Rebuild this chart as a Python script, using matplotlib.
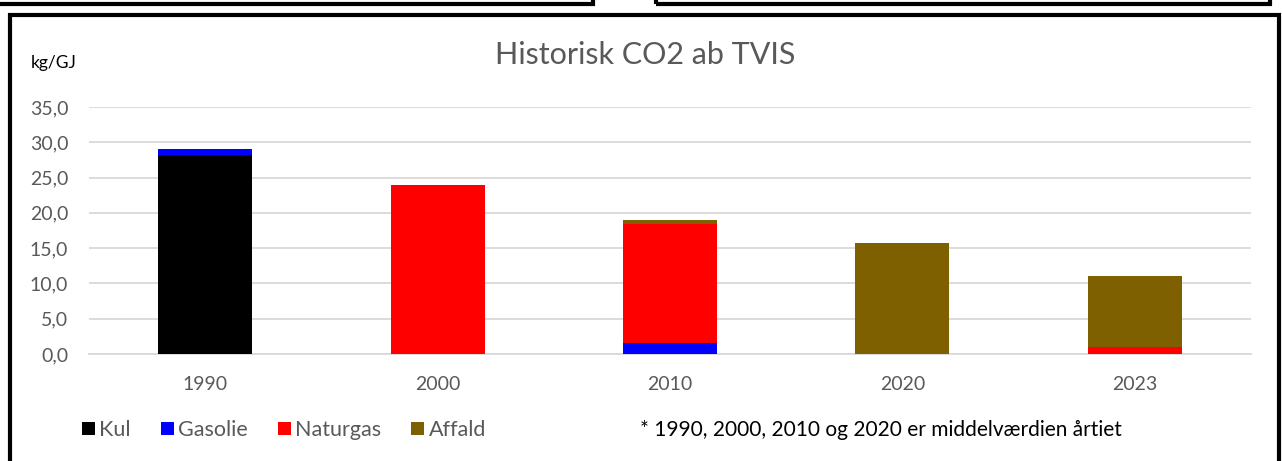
import matplotlib.pyplot as plt
from matplotlib.patches import Rectangle
from matplotlib.ticker import MultipleLocator, FuncFormatter

plt.rcParams['font.family'] = ['Lato', 'DejaVu Sans']

# data (kg/GJ)
years = ['1990', '2000', '2010', '2020', '2023']
kul = [28.2, 0, 0, 0, 0]
gasolie = [0.8, 0, 1.5, 0, 0]
naturgas = [0, 24.0, 16.9, 0, 1.0]
affald = [0, 0, 0.6, 15.7, 10.0]

series = [('Kul', kul, '#000000'),
          ('Gasolie', gasolie, '#0000ff'),
          ('Naturgas', naturgas, '#ff0000'),
          ('Affald', affald, '#7f6000')]

W, H = 1282, 461
fig = plt.figure(figsize=(W / 100, H / 100), dpi=100)
ax = fig.add_axes([89 / W, 1 - 354 / H, (1251 - 89) / W, (354 - 107) / H])

x = range(len(years))
bottom = [0] * len(years)
for name, vals, col in series:
    ax.bar(x, vals, width=0.405, bottom=bottom, color=col, label=name, zorder=3)
    bottom = [b + v for b, v in zip(bottom, vals)]

ax.set_xlim(-0.5, len(years) - 0.5)
ax.set_ylim(0, 35)
ax.yaxis.set_major_locator(MultipleLocator(5))
ax.yaxis.set_major_formatter(FuncFormatter(lambda v, p: f'{v:.1f}'.replace('.', ',')))
ax.set_xticks(list(x))
ax.set_xticklabels(years)
ax.tick_params(length=0, labelsize=14, labelcolor='#595959')
ax.tick_params(axis='y', pad=15)
ax.tick_params(axis='x', pad=16)
ax.grid(axis='y', color='#d9d9d9', linewidth=1.3, zorder=0)
for s in ['top', 'right', 'left']:
    ax.spines[s].set_visible(False)
ax.spines['bottom'].set_color('#d9d9d9')
ax.spines['bottom'].set_linewidth(1.3)

# title and unit label
fig.text(645 / W, 1 - 55 / H, 'Historisk CO2 ab TVIS', ha='center', va='center',
         fontsize=22, color='#595959')
fig.text(31 / W, 1 - 63 / H, 'kg/GJ', ha='left', va='center', fontsize=12.5, color='#000000')

# legend
leg = fig.legend(loc='center left', bbox_to_anchor=(82 / W, 1 - 430 / H), ncol=4,
                 frameon=False, fontsize=15.5, handlelength=0.6, handleheight=0.6,
                 handletextpad=0.2, columnspacing=1.4, borderaxespad=0, borderpad=0)
for t in leg.get_texts():
    t.set_color('#595959')

fig.text(640 / W, 1 - 430 / H, '* 1990, 2000, 2010 og 2020 er middelværdien årtiet',
         ha='left', va='center', fontsize=15, color='#000000')

# frame around the chart and bits of the neighbouring boxes
fig.patches.append(Rectangle((10 / W, -0.05), (1269 / W), 1 - 15 / H + 0.05,
                             transform=fig.transFigure, fill=False,
                             edgecolor='black', linewidth=3))
fig.patches.append(Rectangle((-0.01, 1 - 4 / H), 606 / W, 0.05,
                             transform=fig.transFigure, fill=False,
                             edgecolor='black', linewidth=3))
fig.patches.append(Rectangle((656 / W, 1 - 4 / H), 614 / W, 0.05,
                             transform=fig.transFigure, fill=False,
                             edgecolor='black', linewidth=3))

fig.savefig('out.png', dpi=100)
